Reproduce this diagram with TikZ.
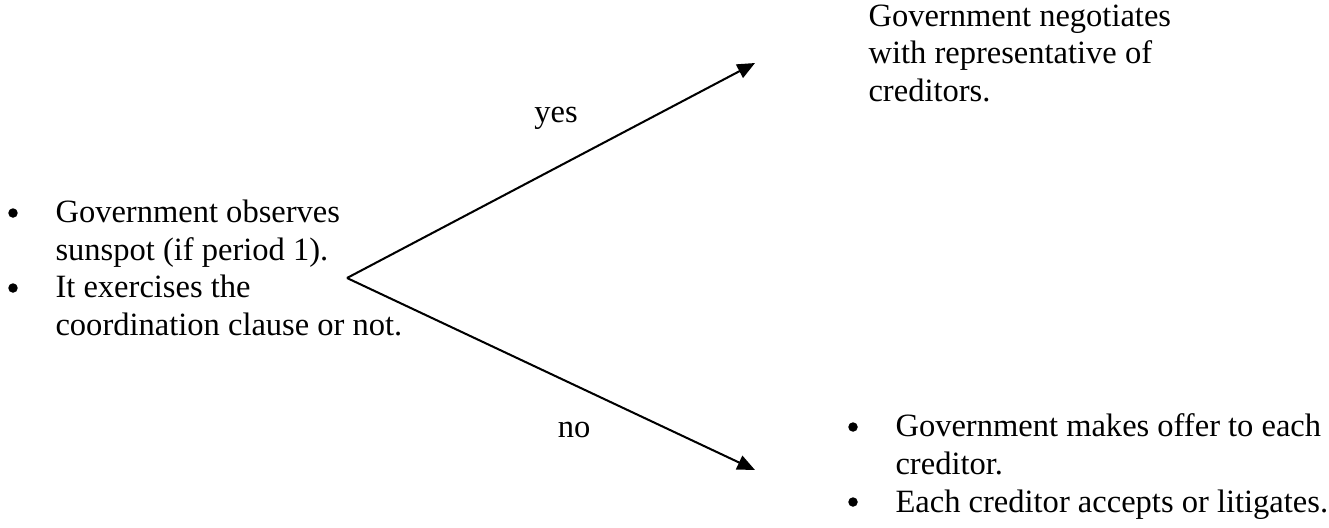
\documentclass[tikz,border=0pt]{standalone}
\usepackage{fontspec}
\setmainfont{Liberation Serif}
\usetikzlibrary{arrows.meta,positioning}

\begin{document}
\begin{tikzpicture}[x=0.369pt,y=-0.369pt,
  every node/.style={font=\fontsize{12}{13.8}\selectfont,inner sep=0pt},
  item/.style={anchor=base west,align=left},
  dot/.style={circle,fill,minimum size=3.5pt},
  branch/.style={line width=0.75pt,-{Triangle[length=6.5pt,width=5.5pt]}}]
\useasboundingbox (0,0) rectangle (1329,527);
% first move
\node[dot] (b1) at (13,213) {};
\node[item] (obs) at (55,260) {Government observes\\sunspot (if period 1).};
\node[dot] (b2) at (13,288) {};
\node[item] (cla) at (55,335) {It exercises the\\coordination clause or not.};
\coordinate (root) at (347,278);
\coordinate (up) at (755,63);
\coordinate (down) at (755,470);
\draw[branch] (root) -- (up);
\draw[branch] (root) -- (down);
\node[anchor=base] (yes) at (556,122) {yes};
\node[anchor=base] (no) at (574,437) {no};
% outcomes
\node[item] (neg) at (868,101) {Government negotiates\\with representative of\\creditors.};
\node[dot] (b3) at (853,427) {};
\node[item] (offer) at (895,474) {Government makes offer to each\\creditor.};
\node[dot] (b4) at (853,502) {};
\node[item] (lit) at (895,512) {Each creditor accepts or litigates.};
\end{tikzpicture}
\end{document}
